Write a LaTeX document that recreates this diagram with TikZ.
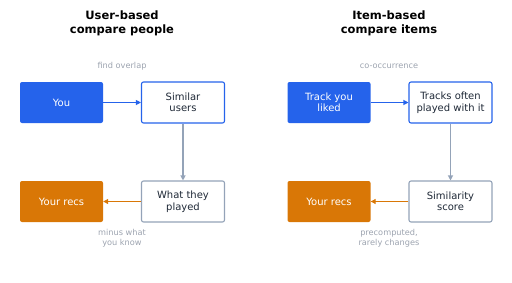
\documentclass[tikz,border=0pt]{standalone}
\usepackage{fontspec}
\setmainfont{DejaVu Sans}
\usetikzlibrary{arrows.meta}
\definecolor{recblue}{HTML}{2563EB}
\definecolor{recorange}{HTML}{D97706}
\definecolor{recgray}{HTML}{94A3B8}
\definecolor{notegray}{HTML}{9CA3AF}
\definecolor{inkdark}{HTML}{1F2937}
\tikzset{
  solidbox/.style={rounded corners=2pt, minimum width=83pt, minimum height=41pt, align=center, text=white, font=\fontsize{10}{11.5}\selectfont, inner sep=0pt},
  openbox/.style={solidbox, fill=white, text=inkdark, line width=1.1pt},
  headtext/.style={align=center, font=\bfseries\fontsize{11.5}{13.5}\selectfont, text=black},
  notetext/.style={align=center, text=notegray, font=\fontsize{8.2}{9.5}\selectfont},
  flow/.style={line width=1.1pt, -{Triangle[length=5pt,width=5pt]}}
}
\begin{document}
\begin{tikzpicture}[x=1pt,y=-1pt]
            \useasboundingbox (0,0) rectangle (512,282);
            % user-based side
            \node [headtext] (userhead) at (122,23.5) {User-based\\compare people};
            \node [notetext] (overlap) at (122,66) {find overlap};
            \node [solidbox, fill=recblue] (you) at (61.5,102.5) {You};
            \node [openbox, draw=recblue] (simusers) at (183,102.5) {Similar\\users};
            \node [openbox, draw=recgray] (played) at (183,201.5) {What they\\played};
            \node [solidbox, fill=recorange] (userrecs) at (61.5,201.5) {Your recs};
            \node [notetext] (minus) at (122,238) {minus what\\you know};
            \draw [flow, recblue] (you) -- (simusers);
            \draw [flow, recgray] (simusers) -- (played);
            \draw [flow, recorange] (played) -- (userrecs);
            % item-based side
            \node [headtext] (itemhead) at (389,23.5) {Item-based\\compare items};
            \node [notetext] (cooccur) at (389,66) {co-occurrence};
            \node [solidbox, fill=recblue] (liked) at (329,102.5) {Track you\\liked};
            \node [openbox, draw=recblue] (often) at (450.5,102.5) {Tracks often\\played with it};
            \node [openbox, draw=recgray] (simscore) at (450.5,201.5) {Similarity\\score};
            \node [solidbox, fill=recorange] (itemrecs) at (329,201.5) {Your recs};
            \node [notetext] (precomp) at (389,238) {precomputed,\\rarely changes};
            \draw [flow, recblue] (liked) -- (often);
            \draw [flow, recgray] (often) -- (simscore);
            \draw [flow, recorange] (simscore) -- (itemrecs);
        \end{tikzpicture}
\end{document}
